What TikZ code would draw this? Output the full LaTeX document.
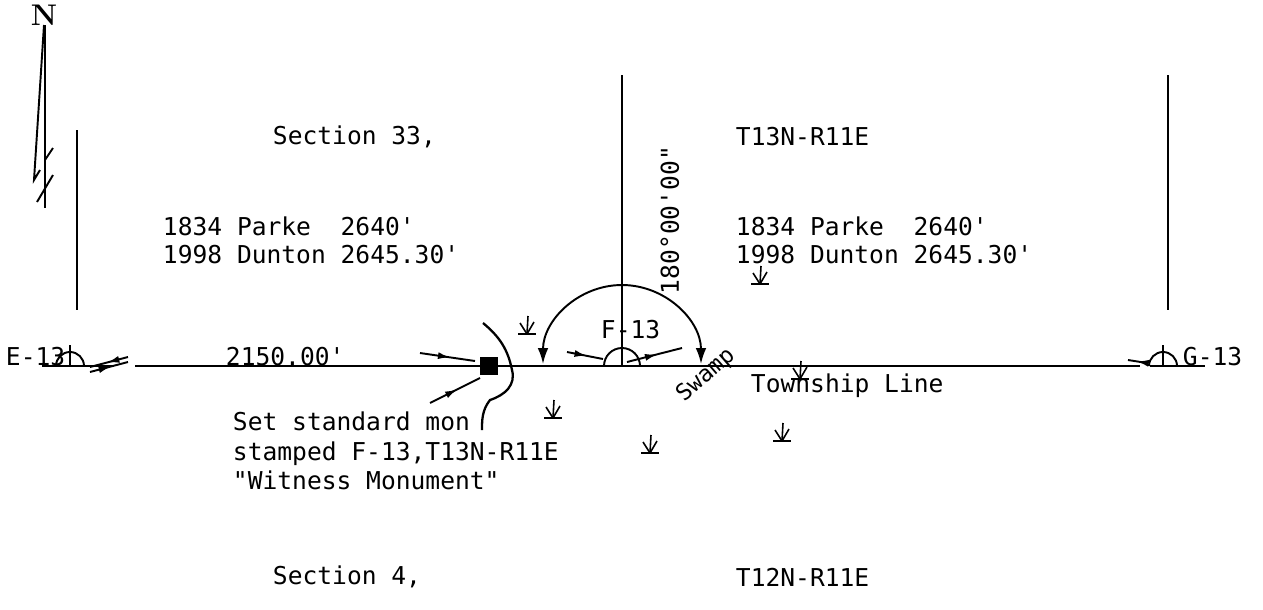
\documentclass[tikz,border=0pt]{standalone}
\usepackage{fontspec}
\setmonofont{DejaVu Sans Mono}
\usetikzlibrary{arrows.meta,decorations.markings}
\tikzset{
  lbl/.style={font=\ttfamily\fontsize{14}{16.8}\selectfont, inner sep=0pt, anchor=west},
  midarrow/.style={postaction={decorate},
    decoration={markings,mark=at position 0.55 with {\arrow{Latex[length=7pt,width=4pt]}}}},
  tuft/.pic={
    \draw[line width=0.9pt] (-9,1) -- (9,1);
    \draw[line width=0.9pt] (0,1) -- (1,-17);
    \draw[line width=0.9pt] (0,1) -- (-7,-10);
    \draw[line width=0.9pt] (0,1) -- (7,-11);
  }
}
\begin{document}
\begin{tikzpicture}[x=0.02cm,y=-0.02cm,line width=1.1pt]
    \useasboundingbox (0,0) rectangle (1263,609);
    % north arrow
    \node[font=\rmfamily\bfseries\fontsize{17}{17}\selectfont,inner sep=0pt] (north) at (44,15) {N};
    \draw (45,25) -- (45,208);
    \draw (44,25) -- (34,180) -- (40,170);
    \draw (45,160) -- (53,148);
    \draw (37,202) -- (53,175);
    % section lines
    \draw (77,130) -- (77,310);
    \draw (622,75) -- (622,366);
    \draw (1168,75) -- (1168,310);
    % township line
    \draw (42,366) -- (113,366);
    \draw (135,366) -- (1140,366);
    \draw (1150,366) -- (1205,366);
    % corners
    \draw (56,366) arc (180:360:14);
    \draw (70,345) -- (70,366);
    \draw (604,366) arc (180:360:18);
    \draw (1149,366) arc (180:360:14);
    \draw (1163,345) -- (1163,366);
    % witness monument
    \fill (480,357) rectangle (498,375);
    \draw[midarrow] (420,353) -- (475,361);
    \draw[midarrow] (430,403) -- (480,378);
    % bearing arrows
    \draw[midarrow] (128,357) -- (90,367);
    \draw[midarrow] (90,372) -- (128,362);
    \draw[midarrow] (567,352) -- (603,359);
    \draw[midarrow] (627,362) -- (682,348);
    \draw[midarrow] (1147,363) -- (1128,360);
    % angle arc
    \draw[{Latex[length=9pt,width=6pt]}-{Latex[length=9pt,width=6pt]}] (543,364) arc (180:360:79);
    % swamp edge
    \draw[line width=1.3pt] (483,323) .. controls (500,337) and (508,350) .. (512,370)
        .. controls (516,385) and (505,395) .. (490,400)
        .. controls (482,410) and (482,420) .. (482,430);
    % grass
    \foreach \gx/\gy in {527/333, 553/417, 650/452, 760/283, 782/440, 800/378}
        \pic at (\gx,\gy) {tuft};
    % labels
    \node[lbl] (sec33) at (272,137) {Section 33,};
    \node[lbl] (twpN) at (735,137) {T13N-R11E};
    \node[lbl] (recL) at (162,226) {1834 Parke\ \ 2640'};
    \node[lbl] (msrL) at (162,255) {1998 Dunton 2645.30'};
    \node[lbl] (recR) at (735,226) {1834 Parke\ \ 2640'};
    \node[lbl] (msrR) at (735,255) {1998 Dunton 2645.30'};
    \node[lbl,rotate=90,anchor=center] (angle) at (670,220) {180°00'00"};
    \node[lbl] (cE) at (5,357) {E-13};
    \node[lbl] (dist) at (225,357) {2150.00'};
    \node[lbl] (cF) at (600,330) {F-13};
    \node[lbl] (cG) at (1182,357) {G-13};
    \node[lbl,rotate=41,anchor=center,font=\ttfamily\fontsize{13}{15}\selectfont] (swamp) at (706,375) {Swamp};
    \node[lbl] (twpline) at (750,386) {Township Line};
    \node[lbl,align=left,anchor=north west] (note) at (232,411)
        {Set standard mon\\stamped F-13,T13N-R11E\\"Witness Monument"};
    \node[lbl] (sec4) at (272,577) {Section 4,};
    \node[lbl] (twpS) at (735,577) {T12N-R11E};
\end{tikzpicture}
\end{document}
